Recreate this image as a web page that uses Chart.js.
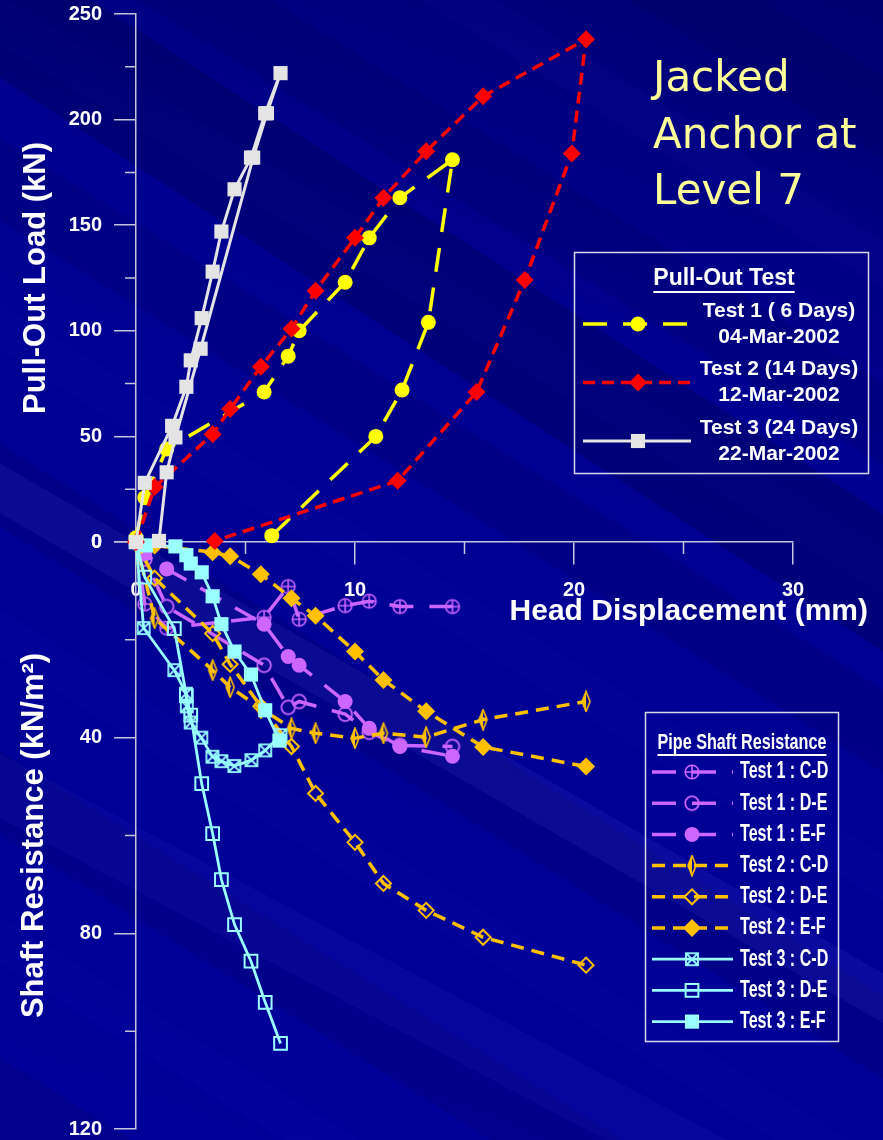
<!DOCTYPE html>
<html>
<head>
<meta charset="utf-8">
<script src="https://cdn.jsdelivr.net/npm/chart.js@4.4.1/dist/chart.umd.min.js"></script>
<style>
html,body{margin:0;padding:0;}
body{
  width:883px;height:1140px;overflow:hidden;
  background:
    linear-gradient(30deg, transparent 0 38%, rgba(120,120,255,0.09) 38% 41%, transparent 41% 100%),
    linear-gradient(28deg, transparent 0 20%, rgba(90,90,255,0.07) 20% 24%, transparent 24% 100%),
    linear-gradient(33deg, transparent 0 62%, rgba(0,0,50,0.25) 62% 70%, transparent 70% 100%),
    repeating-linear-gradient(32deg, rgba(0,0,60,0.14) 0 70px, transparent 70px 150px, rgba(30,30,190,0.08) 150px 190px, transparent 190px 260px),
    linear-gradient(200deg, #000070 0%, #000090 30%, #00009a 100%);
}
canvas{display:block}
</style>
</head>
<body>
<canvas id="c" width="883" height="1140"></canvas>
<script>
// Pull-out test (top part): head displacement (mm) vs load (kN)
const t1Disp = [0, 0.4, 1.4, 5.85, 6.95, 7.45, 9.55, 10.65, 12.05, 14.45, 13.35, 12.15, 10.95, 6.2];
const t1Load = [2, 21, 44, 71, 88, 100, 123, 144, 163, 181, 104, 72, 50, 3];

const t2Disp = [0, 0.85, 3.5, 4.3, 5.7, 7.1, 8.2, 10.0, 11.3, 13.25, 15.85, 20.55, 19.9, 17.75, 15.55, 11.95, 3.6];
const t2Load = [0, 26, 51, 63, 83, 101, 119, 144, 163, 185, 211, 238, 184, 124, 71, 29, 0.5];

const t3Disp = [0, 0.4, 1.65, 2.3, 2.5, 3.0, 3.5, 3.9, 4.5, 5.25, 5.9, 6.6, 5.98, 5.35, 2.95, 1.8, 1.4, 1.05];
const t3Load = [0, 28, 55, 73.5, 86, 106, 128, 147, 167, 182, 203, 222, 203, 182, 91.5, 49.5, 33, 0.5];

// Pipe shaft resistance (bottom part), kN/m2
const s1Disp = [0, 0.4, 1.4, 5.85, 6.95, 7.45, 9.55, 10.65, 12.05, 14.45];
const s1CD = [0, 12.7, 17.6, 15.4, 9.1, 15.8, 13.0, 12.1, 13.2, 13.2];
const s1DE = [0, 3.5, 13.2, 25.2, 33.8, 32.6, 35.2, 38.9, 41.6, 41.8];
const s1EF = [0, 2.5, 5.5, 16.8, 23.4, 25.2, 32.6, 38.1, 41.8, 43.8];

const s2Disp = [0, 0.85, 3.5, 4.3, 5.7, 7.1, 8.2, 10.0, 11.3, 13.25, 15.85, 20.55];
const s2CD = [0, 15.6, 26.2, 29.7, 34.0, 38.1, 39.1, 40.1, 39.1, 39.9, 36.3, 32.6];
const s2DE = [0, 7.4, 18.7, 25.0, 33.6, 41.8, 51.4, 61.4, 69.8, 75.3, 80.8, 86.5];
const s2EF = [0, 0.7, 2.1, 2.9, 6.6, 11.5, 15.1, 22.4, 28.2, 34.6, 41.9, 45.9];

const s3CDDisp = [0, 0.35, 1.75, 2.28, 2.32, 2.5, 2.98, 3.49, 3.9, 4.49, 5.27, 5.9, 6.6];
const s3CD = [0, 17.6, 26.2, 31.0, 33.6, 36.9, 40.0, 43.9, 44.8, 45.8, 44.6, 42.6, 39.5];
const s3DEDisp = [0, 0.4, 1.75, 2.3, 2.5, 3.0, 3.5, 3.9, 4.5, 5.25, 5.9, 6.6];
const s3DE = [0, 7.2, 17.7, 31.4, 35.4, 49.4, 59.6, 69.0, 78.2, 85.7, 94.1, 102.5];
const s3EFDisp = [0, 0.45, 1.8, 2.3, 2.5, 3.0, 3.5, 3.9, 4.5, 5.25, 5.9, 6.55];
const s3EF = [0, 0.7, 0.9, 2.7, 4.4, 6.2, 11.1, 16.8, 22.4, 27.1, 34.4, 40.6];

// axis ticks
const dispTicks = [0, 10, 20, 30];
const dispMinor = [5, 15, 25];
const loadTicks = [0, 50, 100, 150, 200, 250];
const loadMinor = [25, 75, 125, 175, 225];
const shaftTicks = [0, 40, 80, 120];
const shaftMinor = [20, 60, 100];

const pullLegend = [['Test 1 ( 6 Days)', '04-Mar-2002'], ['Test 2 (14 Days)', '12-Mar-2002'], ['Test 3 (24 Days)', '22-Mar-2002']];
const shaftLegend = ['Test 1 : C-D', 'Test 1 : D-E', 'Test 1 : E-F', 'Test 2 : C-D', 'Test 2 : D-E', 'Test 2 : E-F', 'Test 3 : C-D', 'Test 3 : D-E', 'Test 3 : E-F'];

const YEL = '#FFFF00', RED = '#FF0000', GRY = '#E4E4E4', PUR = '#CC66FF', GLD = '#FFC000', CYN = '#99FFFF';
const AXIS = '#C4C4DC';
const BOLD = '"Liberation Sans", Arial, sans-serif';

function pts(xs, ys){ return xs.map((x,i)=>({x:x, y:ys[i]})); }

function mk(w, h, fn){
    const c = document.createElement('canvas');
    c.width = w; c.height = h;
    fn(c.getContext('2d'));
    return c;
}
// custom markers
const circPlus = mk(18, 18, g=>{
    g.strokeStyle = PUR; g.lineWidth = 1.6;
    g.beginPath(); g.arc(9,9,6.8,0,Math.PI*2); g.stroke();
    g.beginPath(); g.moveTo(2,9); g.lineTo(16,9); g.moveTo(9,2); g.lineTo(9,16); g.stroke();
});
const circOpen = mk(18, 18, g=>{
    g.strokeStyle = PUR; g.lineWidth = 1.8;
    g.beginPath(); g.arc(9,9,6.8,0,Math.PI*2); g.stroke();
});
const thinDiamond = mk(12, 22, g=>{
    g.strokeStyle = GLD; g.fillStyle = GLD; g.lineWidth = 1.6;
    g.beginPath(); g.moveTo(6,1); g.lineTo(10,11); g.lineTo(6,21); g.lineTo(2,11); g.closePath(); g.stroke();
    g.beginPath(); g.moveTo(6,1); g.lineTo(6,21); g.lineTo(2,11); g.closePath(); g.fill();
});
const boxCross = mk(16, 16, g=>{
    g.strokeStyle = CYN; g.lineWidth = 1.8;
    g.strokeRect(2,2,12,12);
    g.beginPath(); g.moveTo(2,2); g.lineTo(14,14); g.moveTo(14,2); g.lineTo(2,14); g.stroke();
});

function ds(label, xs, ys, axis, color, width, dash, style, radius, fill, bw){
    return {
        label: label, data: pts(xs, ys), yAxisID: axis, showLine: true, clip: false,
        borderColor: color, borderWidth: width, borderDash: dash, borderCapStyle: 'butt',
        pointStyle: style, pointRadius: radius, pointHoverRadius: radius,
        pointBackgroundColor: fill, pointBorderColor: color, pointBorderWidth: bw
    };
}

const dT3 = ds('Test 3', t3Disp, t3Load, 'y', GRY, 3, [], 'rect', 10, GRY, 0);
const dT2 = ds('Test 2', t2Disp, t2Load, 'y', RED, 3.5, [12, 7], 'rectRot', 9, RED, 0);
const dT1 = ds('Test 1', t1Disp, t1Load, 'y', YEL, 3.5, [24, 16], 'circle', 7.5, YEL, 0);

const dS3EF = ds('Test 3 : E-F', s3EFDisp, s3EF, 'y2', CYN, 2.8, [], 'rect', 10, CYN, 0);
const dS3CD = ds('Test 3 : C-D', s3CDDisp, s3CD, 'y2', CYN, 2.8, [], boxCross, 7, CYN, 0);
const dS3DE = ds('Test 3 : D-E', s3DEDisp, s3DE, 'y2', CYN, 2.8, [], 'rect', 9, 'rgba(0,0,0,0)', 2);
const dS2EF = ds('Test 2 : E-F', s2Disp, s2EF, 'y2', GLD, 3.5, [13, 8], 'rectRot', 9, GLD, 0);
const dS2DE = ds('Test 2 : D-E', s2Disp, s2DE, 'y2', GLD, 3.5, [13, 8], 'rectRot', 7.5, 'rgba(0,0,0,0)', 2);
const dS2CD = ds('Test 2 : C-D', s2Disp, s2CD, 'y2', GLD, 3.5, [13, 8], thinDiamond, 9, GLD, 0);
const dS1EF = ds('Test 1 : E-F', s1Disp, s1EF, 'y2', PUR, 3.5, [24, 16], 'circle', 7.5, PUR, 0);
const dS1DE = ds('Test 1 : D-E', s1Disp, s1DE, 'y2', PUR, 3.5, [24, 16], circOpen, 8, PUR, 0);
const dS1CD = ds('Test 1 : C-D', s1Disp, s1CD, 'y2', PUR, 3.5, [24, 16], circPlus, 8, PUR, 0);

const pullSets = [dT1, dT2, dT3];
const shaftSets = [dS1CD, dS1DE, dS1EF, dS2CD, dS2DE, dS2EF, dS3CD, dS3DE, dS3EF];

function drawSample(ctx, d, x1, x2, mx, y){
    ctx.save();
    ctx.strokeStyle = d.borderColor; ctx.lineWidth = d.borderWidth;
    ctx.setLineDash(d.borderDash);
    ctx.beginPath(); ctx.moveTo(x1, y); ctx.lineTo(x2, y); ctx.stroke();
    ctx.setLineDash([]);
    ctx.fillStyle = d.pointBackgroundColor; ctx.strokeStyle = d.pointBorderColor; ctx.lineWidth = d.pointBorderWidth;
    Chart.helpers.drawPoint(ctx, {pointStyle: d.pointStyle, radius: d.pointRadius, borderWidth: d.pointBorderWidth, rotation: 0}, mx, y);
    ctx.restore();
}

function txt(ctx, s, x, y, font, color, align, sx){
    ctx.save();
    ctx.font = font; ctx.fillStyle = color; ctx.textAlign = align; ctx.textBaseline = 'middle';
    ctx.translate(x, y); ctx.scale(sx || 1, 1);
    ctx.fillText(s, 0, 0);
    const w = ctx.measureText(s).width * (sx || 1);
    ctx.restore();
    return w;
}

const extras = {
    id: 'extras',
    afterDraw(chart){
        const ctx = chart.ctx;
        const sx = chart.scales.x, sy = chart.scales.y, sy2 = chart.scales.y2;
        // minor ticks
        ctx.save();
        ctx.strokeStyle = AXIS; ctx.lineWidth = 1.5;
        ctx.beginPath();
        const x0 = sx.left, yb = sy.getPixelForValue(0);
        dispMinor.forEach(v=>{ const p = sx.getPixelForValue(v); ctx.moveTo(p, yb); ctx.lineTo(p, yb + 12); });
        loadMinor.forEach(v=>{ const p = sy.getPixelForValue(v); ctx.moveTo(x0 - 11, p); ctx.lineTo(x0, p); });
        shaftMinor.forEach(v=>{ const p = sy2.getPixelForValue(v); ctx.moveTo(x0 - 11, p); ctx.lineTo(x0, p); });
        ctx.stroke();
        ctx.restore();

        // title block
        const tf = '42px "DejaVu Sans", Verdana, sans-serif';
        txt(ctx, 'Jacked', 653, 80, tf, '#FFFF99', 'left');
        txt(ctx, 'Anchor at', 653, 137, tf, '#FFFF99', 'left');
        txt(ctx, 'Level 7', 653, 193, tf, '#FFFF99', 'left');

        // x axis title
        txt(ctx, 'Head Displacement (mm)', 868, 612, 'bold 30px ' + BOLD, '#FFFFFF', 'right');

        // legend boxes
        ctx.save();
        ctx.strokeStyle = '#D8D8EC'; ctx.lineWidth = 1.5;
        ctx.strokeRect(574.5, 252.5, 294, 221);
        ctx.strokeRect(645.5, 712.5, 193, 329);
        ctx.restore();

        // legend: pull-out test
        let w = txt(ctx, 'Pull-Out Test', 724, 279, 'bold 23px ' + BOLD, '#FFFFFF', 'center');
        ctx.save(); ctx.strokeStyle = '#FFFFFF'; ctx.lineWidth = 2;
        ctx.beginPath(); ctx.moveTo(724 - w/2, 292); ctx.lineTo(724 + w/2, 292); ctx.stroke(); ctx.restore();
        pullSets.forEach((d, i)=>{
            const yc = 324 + i * 58.5;
            drawSample(ctx, d, 583, 691, 638, yc);
            txt(ctx, pullLegend[i][0], 779, yc - 13, 'bold 21px ' + BOLD, '#FFFFFF', 'center');
            txt(ctx, pullLegend[i][1], 779, yc + 13, 'bold 21px ' + BOLD, '#FFFFFF', 'center');
        });

        // legend: pipe shaft resistance
        w = txt(ctx, 'Pipe Shaft Resistance', 742, 743, 'bold 22px ' + BOLD, '#FFFFFF', 'center', 0.735);
        ctx.save(); ctx.strokeStyle = '#FFFFFF'; ctx.lineWidth = 1.8;
        ctx.beginPath(); ctx.moveTo(742 - w/2, 755); ctx.lineTo(742 + w/2, 755); ctx.stroke(); ctx.restore();
        shaftSets.forEach((d, i)=>{
            const yc = 772 + i * 31.2;
            drawSample(ctx, d, 652, 733, 692, yc);
            txt(ctx, shaftLegend[i], 740, yc, 'bold 23px ' + BOLD, '#FFFFFF', 'left', 0.7);
        });
    }
};

const tickFont = {family: BOLD, size: 20, weight: 'bold'};
function noPad(s){ s.paddingTop = 0; s.paddingBottom = 0; }

new Chart(document.getElementById('c'), {
    type: 'scatter',
    data: { datasets: [dT3, dT2, dT1, dS3EF, dS3CD, dS3DE, dS2EF, dS2DE, dS2CD, dS1EF, dS1DE, dS1CD] },
    options: {
        responsive: false,
        animation: false,
        layout: { padding: { left: 0, right: 90, top: 14, bottom: 11 } },
        plugins: { legend: { display: false }, tooltip: { enabled: false } },
        scales: {
            x: {
                type: 'linear', min: 0, max: 30,
                position: { y: 0 },
                afterFit: s => { s.height = 0; s.paddingLeft = 0; s.paddingRight = 0; },
                afterBuildTicks: s => { s.ticks = dispTicks.map(v => ({value: v})); },
                grid: { drawOnChartArea: false, drawTicks: true, tickLength: 22, color: AXIS, lineWidth: 1.5 },
                border: { color: AXIS, width: 1.5 },
                ticks: { color: '#FFFFFF', font: tickFont, padding: 14, maxRotation: 0 }
            },
            y: {
                type: 'linear', min: 0, max: 250, position: 'left',
                stack: 'v', stackWeight: 528, weight: 2,
                afterFit: s => { s.width = 136; noPad(s); },
                afterBuildTicks: s => { s.ticks = loadTicks.map(v => ({value: v})); },
                grid: { drawOnChartArea: false, drawTicks: true, tickLength: 22, color: AXIS, lineWidth: 1.5 },
                border: { color: AXIS, width: 1.5 },
                ticks: { color: '#FFFFFF', font: tickFont, padding: 12 },
                title: { display: true, text: 'Pull-Out Load (kN)', color: '#FFFFFF',
                         font: {family: BOLD, size: 31, weight: 'bold'}, padding: {top: 18, bottom: 0} }
            },
            y2: {
                type: 'linear', min: 0, max: 120, reverse: true, position: 'left',
                stack: 'v', stackWeight: 587, weight: 1,
                afterFit: s => { s.width = 136; noPad(s); },
                afterBuildTicks: s => { s.ticks = shaftTicks.map(v => ({value: v})); },
                grid: { drawOnChartArea: false, drawTicks: true, tickLength: 22, color: AXIS, lineWidth: 1.5 },
                border: { color: AXIS, width: 1.5 },
                ticks: { color: '#FFFFFF', font: tickFont, padding: 12 },
                title: { display: true, text: 'Shaft Resistance (kN/m²)', color: '#FFFFFF',
                         font: {family: BOLD, size: 31, weight: 'bold'}, padding: {top: 16, bottom: 0} }
            }
        }
    },
    plugins: [extras]
});
</script>
</body>
</html>
